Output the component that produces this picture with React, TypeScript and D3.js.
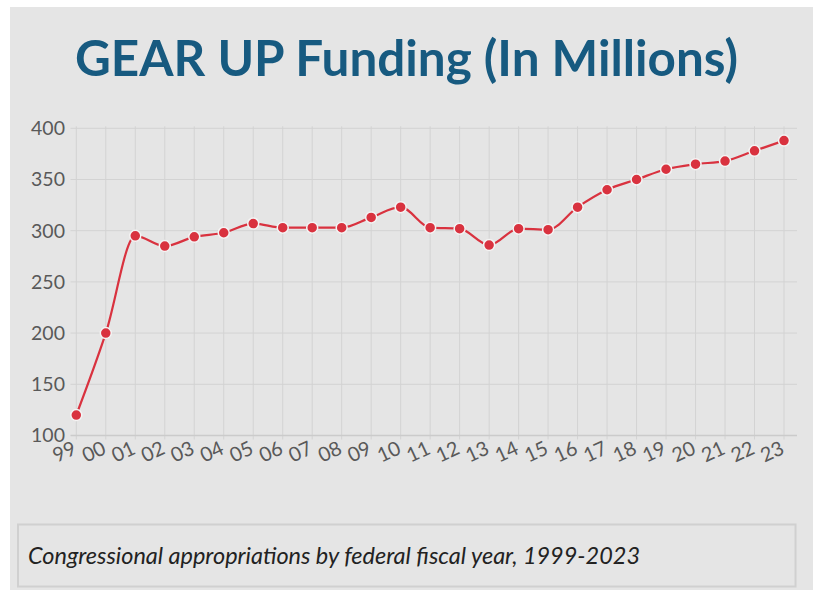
import React from "react";
import * as d3 from "d3";

const years = ["99","00","01","02","03","04","05","06","07","08","09","10","11","12","13","14","15","16","17","18","19","20","21","22","23"];
const funding = [120,200,295,285,294,298,307,303,303,303,313,323,303,302,286,302,301,323,340,350,360,365,368,378,388];
const yTicks = [100,150,200,250,300,350,400];
const title = "GEAR UP Funding (In Millions)";
const caption = "Congressional appropriations by federal fiscal year, 1999-2023";

const W = 813, H = 590;
const plotLeft = 76.3, plotRight = 784, plotTop = 128.3, plotBottom = 435.5;

export default function App() {
  const x = d3.scalePoint<string>().domain(years).range([plotLeft, plotRight]);
  const y = d3.scaleLinear().domain([100, 400]).range([plotBottom, plotTop]);
  const line = d3.line<number>()
    .x((_, i) => x(years[i]) as number)
    .y((d) => y(d))
    .curve(d3.curveMonotoneX);
  const tickFont = "Lato, 'Open Sans', sans-serif";
  return (
    <div style={{ position: "absolute", left: 0, top: 0 }}>
      <svg width={W} height={H} style={{ display: "block" }}>
        <rect x={0} y={0} width={W} height={H} fill="#ffffff" />
        <rect x={10} y={7} width={W - 10} height={H - 7} fill="#e5e5e5" />
        <text x={406.5} y={76} textAnchor="middle" fill="#175a80" fontFamily="Lato, sans-serif" fontWeight={700} fontSize={50} textLength={663} lengthAdjust="spacingAndGlyphs">{title}</text>
        {/* vertical grid */}
        {years.map((yr) => (
          <line key={"v" + yr} x1={x(yr)} x2={x(yr)} y1={plotTop - 2} y2={plotBottom + 4} stroke="#d3d3d3" strokeWidth={1} />
        ))}
        {/* horizontal grid */}
        {yTicks.map((t) => (
          <line key={"h" + t} x1={70.5} x2={797} y1={y(t)} y2={y(t)} stroke={t === 100 ? "#cbcbcb" : "#d3d3d3"} strokeWidth={t === 100 ? 1.5 : 1} />
        ))}
        {yTicks.map((t) => (
          <text key={"yl" + t} x={65} y={y(t)} dy="0.35em" textAnchor="end" fill="#595959" fontFamily={tickFont} fontSize={19.5}>{t}</text>
        ))}
        {years.map((yr) => (
          <text key={"xl" + yr} transform={`translate(${(x(yr) as number) + 1.5},${453}) rotate(-25)`} textAnchor="end" fill="#595959" fontFamily={tickFont} fontSize={20}>{yr}</text>
        ))}
        <path d={line(funding) || ""} fill="none" stroke="#d9323f" strokeWidth={2.2} />
        {funding.map((v, i) => (
          <circle key={"c" + i} cx={x(years[i])} cy={y(v)} r={5.5} fill="#d9323f" stroke="#f4f4f4" strokeWidth={1.5} />
        ))}
        <rect x={18} y={524.5} width={777.5} height={62} fill="#e5e5e5" stroke="#d0d0d0" strokeWidth={2} />
        <text x={28} y={564} fill="#222" fontFamily="Lato, sans-serif" fontStyle="italic" fontSize={22.5} textLength={612} lengthAdjust="spacingAndGlyphs">{caption}</text>
      </svg>
    </div>
  );
}
